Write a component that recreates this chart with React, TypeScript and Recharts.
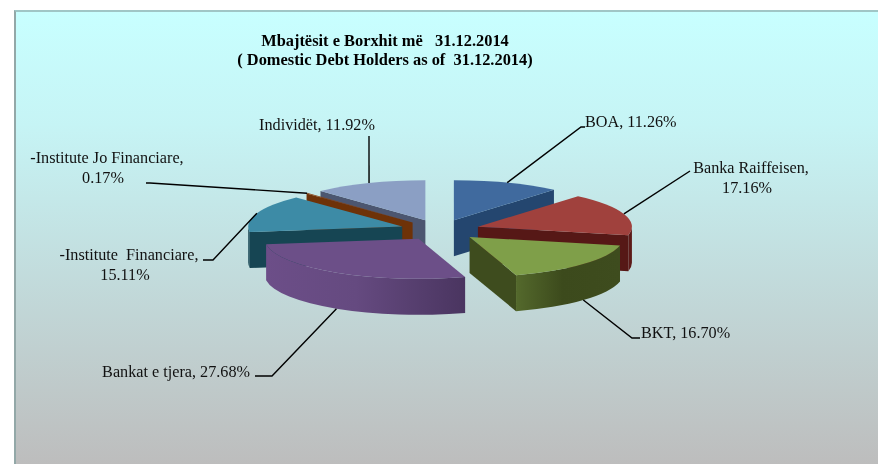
import React from "react";
import { PieChart, Pie } from "recharts";

const names = [
  "BOA",
  "Banka Raiffeisen",
  "BKT",
  "Bankat e tjera",
  "-Institute  Financiare",
  "-Institute Jo Financiare",
  "Individët",
];
const shares = [11.26, 17.16, 16.7, 27.68, 15.11, 0.17, 11.92];
const topColors = ["#406a9e", "#a0413d", "#7f9f49", "#6c4f88", "#3d8ba6", "#8a4212", "#8b9fc4"];
const faceColors = ["#24466f", "#561816", "#3e4c1e", "#4a3560", "#164553", "#6e3208", "#4c5670"];
const rimLeft = ["#24466f", "#5c1a18", "#54692c", "#6c4e88", "#164553", "#6e3208", "#4c5670"];
const rimMid = ["#24466f", "#5c1a18", "#3c4a1c", "#654a80", "#164553", "#6e3208", "#4c5670"];
const rimRight = ["#24466f", "#5c1a18", "#3e4c1e", "#4a3560", "#164553", "#6e3208", "#4c5670"];

const pieData = names.map((name, i) => ({ name, value: shares[i] }));

// back to front, slices overlap each other when exploded
const drawOrder = [6, 5, 0, 4, 1, 2, 3];

// label layout, separate from the values
const leaderPoints = [
  [[581, 127], [585, 127]],
  [[690, 171], [690, 171]],
  [[632, 338], [640, 338]],
  [[272, 376], [255, 376]],
  [[213, 260], [203, 260]],
  [[150, 183], [146, 183]],
  [[369, 136], [369, 136]],
];
const labelSpots = [
  { x: 585, y: 127, anchor: "start", lines: ["BOA, 11.26%"] },
  { x: 751, y: 173, anchor: "middle", lines: ["Banka Raiffeisen,", "17.16%"] },
  { x: 641, y: 338, anchor: "start", lines: ["BKT, 16.70%"] },
  { x: 250, y: 377, anchor: "end", lines: ["Bankat e tjera, 27.68%"] },
  { x: 129, y: 260, anchor: "middle", lines: ["-Institute  Financiare,", "15.11%"] },
  { x: 107, y: 163, anchor: "middle", lines: ["-Institute Jo Financiare,", "0.17%"] },
  { x: 317, y: 130, anchor: "middle", lines: ["Individët, 11.92%"] },
];

const TILT = 0.26;
const EXPLODE = 40;
const DEPTH = 36;
const serif = "'Liberation Serif', serif";
const rad = (d: number) => (d * Math.PI) / 180;

// angle is clockwise from 12 o'clock
const rimPoint = (ox: number, oy: number, r: number, angle: number) => ({
  x: ox + r * Math.sin(rad(angle)),
  y: oy - r * TILT * Math.cos(rad(angle)),
});

const apexOf = (cx: number, cy: number, mid: number) => rimPoint(cx, cy, EXPLODE, mid);

function sliceShape(layer: string) {
  return (props: any) => {
    if (props.name !== layer) return <g />;
    const i = names.indexOf(props.name);
    const { cx, cy, outerRadius: r } = props;
    const a1 = 90 - props.startAngle;
    const a2 = 90 - props.endAngle;
    const apex = apexOf(cx, cy, (a1 + a2) / 2);
    const p1 = rimPoint(apex.x, apex.y, r, a1);
    const p2 = rimPoint(apex.x, apex.y, r, a2);
    const rx = r;
    const ry = r * TILT;
    const gradId = `rim-${i}`;

    const face = (p: { x: number; y: number }) =>
      `M${apex.x},${apex.y} L${p.x},${p.y} L${p.x},${p.y + DEPTH} L${apex.x},${apex.y + DEPTH} Z`;

    const rimStart = Math.max(a1, 90);
    const rimEnd = Math.min(a2, 270);
    let rimPath = "";
    if (rimEnd > rimStart) {
      const s = rimPoint(apex.x, apex.y, r, rimStart);
      const e = rimPoint(apex.x, apex.y, r, rimEnd);
      rimPath = `M${s.x},${s.y} A${rx},${ry} 0 0 1 ${e.x},${e.y} L${e.x},${e.y + DEPTH} A${rx},${ry} 0 0 0 ${s.x},${s.y + DEPTH} Z`;
    }

    return (
      <g>
        <defs>
          <linearGradient id={gradId} x1="0" y1="0" x2="1" y2="0">
            <stop offset="0%" stopColor={rimLeft[i]} />
            <stop offset="45%" stopColor={rimMid[i]} />
            <stop offset="100%" stopColor={rimRight[i]} />
          </linearGradient>
        </defs>
        {Math.sin(rad(a1)) < 0 && <path d={face(p1)} fill={faceColors[i]} />}
        {Math.sin(rad(a2)) > 0 && <path d={face(p2)} fill={faceColors[i]} />}
        {rimPath && <path d={rimPath} fill={`url(#${gradId})`} />}
        <path
          d={`M${apex.x},${apex.y} L${p1.x},${p1.y} A${rx},${ry} 0 0 1 ${p2.x},${p2.y} Z`}
          fill={topColors[i]}
        />
      </g>
    );
  };
}

function renderLabel(props: any) {
  const i = names.indexOf(props.name);
  const mid = 90 - props.midAngle;
  const apex = apexOf(props.cx, props.cy, mid);
  const rim = rimPoint(apex.x, apex.y, props.outerRadius, mid);
  const front = Math.cos(rad(mid)) < 0;
  const start = [rim.x, rim.y + (front ? DEPTH : 0)];
  const pts = [start, ...leaderPoints[i]].map((p) => p.join(",")).join(" ");
  const spot = labelSpots[i];
  return (
    <g key={props.name}>
      <polyline points={pts} fill="none" stroke="#000" strokeWidth={1.4} />
      <text
        textAnchor={spot.anchor as any}
        fontFamily={serif}
        fontSize={16.2}
        fill="#111"
        style={{ whiteSpace: "pre" }}
      >
        {spot.lines.map((line, k) => (
          <tspan key={k} x={k === 0 ? spot.x : spot.x - 4} y={spot.y + k * 19.5}>
            {line}
          </tspan>
        ))}
      </text>
    </g>
  );
}

export default function App() {
  return (
    <div style={{ position: "absolute", left: 0, top: 0, width: 878, height: 464, background: "#fff", overflow: "hidden" }}>
      <div
        style={{
          position: "absolute",
          left: 14,
          top: 10,
          width: 864,
          height: 454,
          boxSizing: "border-box",
          borderLeft: "2px solid #93a8a8",
          borderTop: "2px solid #a0c6c6",
          background: "linear-gradient(180deg, #c8ffff 0%, #c6f4f5 25%, #bdbdbd 100%)",
        }}
      />
      <div style={{ position: "absolute", left: 0, top: 0, filter: "blur(0.4px)" }}>
        <PieChart width={878} height={464} margin={{ top: 0, right: 0, bottom: 0, left: 0 }}>
          <text x={385} y={46} textAnchor="middle" fontFamily={serif} fontSize={16.4} fontWeight="bold" fill="#000" style={{ whiteSpace: "pre" }}>
            {"Mbajtësit e Borxhit më   31.12.2014"}
          </text>
          <text x={385} y={65} textAnchor="middle" fontFamily={serif} fontSize={16.4} fontWeight="bold" fill="#000" style={{ whiteSpace: "pre" }}>
            {"( Domestic Debt Holders as of  31.12.2014)"}
          </text>
          {drawOrder.map((idx, n) => (
            <Pie
              key={names[idx]}
              data={pieData}
              dataKey="value"
              nameKey="name"
              cx={440}
              cy={230}
              outerRadius={154}
              startAngle={90}
              endAngle={-270}
              stroke="none"
              isAnimationActive={false}
              shape={sliceShape(names[idx])}
              label={n === drawOrder.length - 1 ? renderLabel : false}
              labelLine={false}
            />
          ))}
        </PieChart>
      </div>
    </div>
  );
}
